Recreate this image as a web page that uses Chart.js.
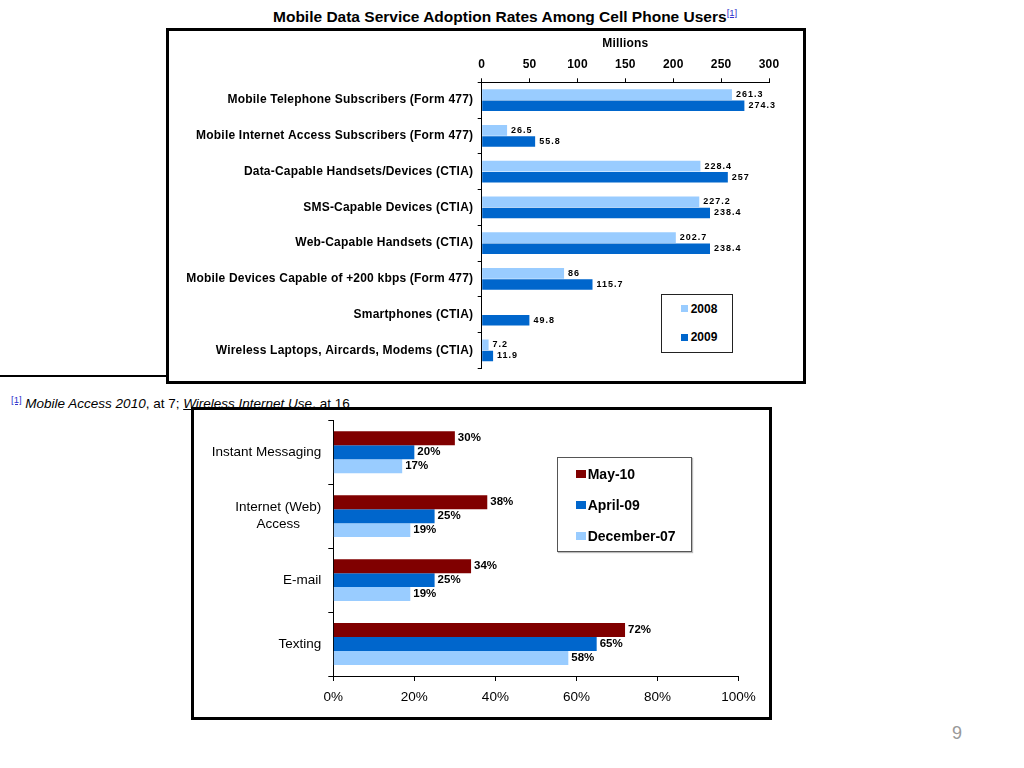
<!DOCTYPE html>
<html>
<head>
<meta charset="utf-8">
<script src="https://cdn.jsdelivr.net/npm/chart.js@4.4.1/dist/chart.umd.min.js"></script>
<style>
  html, body { margin:0; padding:0; background:#fff; width:1024px; height:768px; overflow:hidden;
    font-family:'Liberation Sans', Arial, Helvetica, sans-serif; color:#000; }
  .abs { position:absolute; }
  #title { left:273px; top:7px; font-weight:bold; font-size:15.5px; line-height:20px; white-space:nowrap; }
  .ref { color:#3333cc; text-decoration:underline; font-weight:normal; font-size:9.5px; position:relative; }
  #box1 { left:166px; top:28px; width:640px; height:356px; box-sizing:border-box; border:3.5px solid #000; background:#fff; z-index:1; }
  #c1 { left:170px; top:32px; z-index:2; }
  #box2 { left:191px; top:407px; width:581px; height:313px; box-sizing:border-box; border:3.5px solid #000; background:#fff; z-index:5; }
  #c2 { left:195px; top:411px; z-index:6; }
  #fnline { left:0; top:375px; width:338px; height:1.5px; background:#000; z-index:0; }
  #footnote { left:11px; top:396px; font-size:13.5px; line-height:16px; white-space:nowrap; z-index:0; }
  #pagenum { left:952px; top:722px; font-size:18px; line-height:22px; color:#999; }
  .legbox { box-sizing:border-box; background:#fff; }
  #leg1 { left:661px; top:294px; width:72px; height:59px; border:1px solid #222; z-index:3; }
  #leg2 { left:557px; top:457px; width:135px; height:95px; border:1px solid #555; z-index:7; box-shadow:1px 1px 1px #bbb; }
  .legitem { position:absolute; white-space:nowrap; font-weight:bold; }
  .sw { position:absolute; }
</style>
</head>
<body>
<div id="title" class="abs">Mobile Data Service Adoption Rates Among Cell Phone Users<span class="ref" style="top:-6px;">[1]</span></div>

<div id="box1" class="abs"></div>
<canvas id="c1" class="abs" width="632" height="348"></canvas>
<div id="leg1" class="abs legbox"></div>

<div id="fnline" class="abs"></div>
<div id="footnote" class="abs"><span class="ref" style="top:-5px;">[1]</span> <i>Mobile Access 2010</i>, at 7; <i><u>Wireless Internet Use</u></i>, at 16</div>

<div id="box2" class="abs"></div>
<canvas id="c2" class="abs" width="573" height="305"></canvas>
<div id="leg2" class="abs legbox"></div>

<div id="pagenum" class="abs">9</div>

<script>
// ---------- Data: top chart ----------
const topCategories = [
  "Mobile Telephone Subscribers (Form 477)",
  "Mobile Internet Access Subscribers (Form 477)",
  "Data-Capable Handsets/Devices (CTIA)",
  "SMS-Capable Devices (CTIA)",
  "Web-Capable Handsets (CTIA)",
  "Mobile Devices Capable of +200 kbps (Form 477)",
  "Smartphones (CTIA)",
  "Wireless Laptops, Aircards, Modems (CTIA)"
];
const topSeriesNames = ["2008", "2009"];
const topValues2008 = [261.3, 26.5, 228.4, 227.2, 202.7, 86, null, 7.2];
const topValues2009 = [274.3, 55.8, 257, 238.4, 238.4, 115.7, 49.8, 11.9];
const topAxisMin = 0, topAxisMax = 300, topAxisStep = 50;
const topAxisTitle = "Millions";

// ---------- Data: bottom chart ----------
const bottomCategories = ["Instant Messaging", ["Internet (Web)", "Access"], "E-mail", "Texting"];
const bottomSeriesNames = ["May-10", "April-09", "December-07"];
const bottomMay10 = [30, 38, 34, 72];
const bottomApril09 = [20, 25, 25, 65];
const bottomDec07 = [17, 19, 19, 58];
const bottomAxisMin = 0, bottomAxisMax = 100, bottomAxisStep = 20;

// ---------- Styles ----------
const LIGHT = '#99CCFF', BLUE = '#0066CC', RED = '#800000';
const FONT = "'Liberation Sans', Arial, Helvetica, sans-serif";
Chart.defaults.font.family = FONT;
Chart.defaults.color = '#000';

function valueLabels(id, fmt, font, spacing, offset) {
  return {
    id: id,
    afterDatasetsDraw(chart) {
      const ctx = chart.ctx;
      chart.data.datasets.forEach((ds, i) => {
        const meta = chart.getDatasetMeta(i);
        meta.data.forEach((bar, j) => {
          const v = ds.data[j];
          if (v === null || v === undefined) return;
          ctx.save();
          ctx.font = font;
          if ('letterSpacing' in ctx) ctx.letterSpacing = spacing;
          ctx.fillStyle = '#000';
          ctx.textAlign = 'left';
          ctx.textBaseline = 'middle';
          ctx.fillText(fmt(v), bar.x + offset, bar.y);
          ctx.restore();
        });
      });
    }
  };
}

const spacingPlugin = {
  id: 'spacing',
  beforeDraw(chart) {
    if ('letterSpacing' in chart.ctx) chart.ctx.letterSpacing = '0.2px';
  }
};

// ---------- Top chart ----------
new Chart(document.getElementById('c1'), {
  type: 'bar',
  data: {
    labels: topCategories,
    datasets: [
      { label: topSeriesNames[0], data: topValues2008, backgroundColor: LIGHT, categoryPercentage: 0.62, barPercentage: 0.96 },
      { label: topSeriesNames[1], data: topValues2009, backgroundColor: BLUE, categoryPercentage: 0.62, barPercentage: 0.96 }
    ]
  },
  options: {
    indexAxis: 'y',
    responsive: false,
    animation: false,
    layout: { padding: { left: 0, right: 33, top: 0, bottom: 8.3 } },
    plugins: { legend: { display: false }, tooltip: { enabled: false }, title: { display: false } },
    scales: {
      x: {
        position: 'top', min: topAxisMin, max: topAxisMax,
        ticks: { stepSize: topAxisStep, color: '#000', font: { size: 12, weight: 'bold' }, padding: 6.8, maxRotation: 0 },
        grid: { drawOnChartArea: false, tickLength: 4, color: '#000' },
        border: { color: '#000' },
        title: { display: true, text: topAxisTitle, color: '#000', font: { size: 12, weight: 'bold' }, padding: { top: 4.1, bottom: 0 } },
        afterFit: (s) => { s.height = 50.3; }
      },
      y: {
        ticks: { color: '#000', font: { size: 12, weight: 'bold' }, padding: 4.5, autoSkip: false },
        grid: { drawOnChartArea: false, tickLength: 4, color: '#000' },
        border: { color: '#000' },
        afterFit: (s) => { s.width = 311.7; }
      }
    }
  },
  plugins: [spacingPlugin, valueLabels('vl1', v => String(v), "bold 9px " + FONT, '1px', 4)]
});

// ---------- Bottom chart ----------
const yLabelPlugin = {
  id: 'ylabels',
  afterDraw(chart) {
    const ctx = chart.ctx;
    const s = chart.scales.y;
    ctx.save();
    ctx.font = "13.5px " + FONT;
    ctx.fillStyle = '#000';
    ctx.textBaseline = 'middle';
    ctx.textAlign = 'center';
    chart.data.labels.forEach((lab, i) => {
      const lines = Array.isArray(lab) ? lab : [lab];
      const w = Math.max(...lines.map(l => ctx.measureText(l).width));
      const yc = s.getPixelForValue(i);
      const right = s.right - 12;
      const lh = 17;
      lines.forEach((l, k) => {
        ctx.fillText(l, right - w / 2, yc + (k - (lines.length - 1) / 2) * lh);
      });
    });
    ctx.restore();
  }
};

new Chart(document.getElementById('c2'), {
  type: 'bar',
  data: {
    labels: bottomCategories,
    datasets: [
      { label: bottomSeriesNames[0], data: bottomMay10, backgroundColor: RED, categoryPercentage: 0.655, barPercentage: 1.0 },
      { label: bottomSeriesNames[1], data: bottomApril09, backgroundColor: BLUE, categoryPercentage: 0.655, barPercentage: 1.0 },
      { label: bottomSeriesNames[2], data: bottomDec07, backgroundColor: LIGHT, categoryPercentage: 0.655, barPercentage: 1.0 }
    ]
  },
  options: {
    indexAxis: 'y',
    responsive: false,
    animation: false,
    layout: { padding: { left: 0, right: 29.5, top: 9.3, bottom: 0 } },
    plugins: { legend: { display: false }, tooltip: { enabled: false } },
    scales: {
      x: {
        position: 'bottom', min: bottomAxisMin, max: bottomAxisMax,
        ticks: { stepSize: bottomAxisStep, color: '#000', font: { size: 13.5 }, padding: 8, maxRotation: 0, callback: v => v + '%' },
        grid: { drawOnChartArea: false, tickLength: 5, color: '#000' },
        border: { color: '#000' },
        afterFit: (s) => { s.height = 40; }
      },
      y: {
        ticks: { display: false, autoSkip: false },
        grid: { drawOnChartArea: false, tickLength: 5, color: '#000' },
        border: { color: '#000' },
        afterFit: (s) => { s.width = 138.3; }
      }
    }
  },
  plugins: [yLabelPlugin, valueLabels('vl2', v => v + '%', "bold 11.5px " + FONT, '0px', 3)]
});

// ---------- Legends (built from series names) ----------
function buildLegend(el, names, colors, opt) {
  names.forEach((n, i) => {
    const cy = opt.firstCenter + i * opt.step;
    const sw = document.createElement('div');
    sw.className = 'sw';
    sw.style.left = opt.swLeft + 'px';
    sw.style.top = (cy - opt.swH / 2) + 'px';
    sw.style.width = opt.swW + 'px';
    sw.style.height = opt.swH + 'px';
    sw.style.background = colors[i];
    el.appendChild(sw);
    const t = document.createElement('div');
    t.className = 'legitem';
    t.textContent = n;
    t.style.left = opt.textLeft + 'px';
    t.style.fontSize = opt.fontSize + 'px';
    t.style.lineHeight = (opt.fontSize + 4) + 'px';
    t.style.top = (cy - (opt.fontSize + 4) / 2) + 'px';
    el.appendChild(t);
  });
}
buildLegend(document.getElementById('leg1'), topSeriesNames, [LIGHT, BLUE],
  { firstCenter: 13.7, step: 28.6, swLeft: 19, swW: 7, swH: 7, textLeft: 28.7, fontSize: 12 });
buildLegend(document.getElementById('leg2'), bottomSeriesNames, [RED, BLUE, LIGHT],
  { firstCenter: 16, step: 31, swLeft: 18, swW: 9.5, swH: 8, textLeft: 29.7, fontSize: 14 });
</script>
</body>
</html>
